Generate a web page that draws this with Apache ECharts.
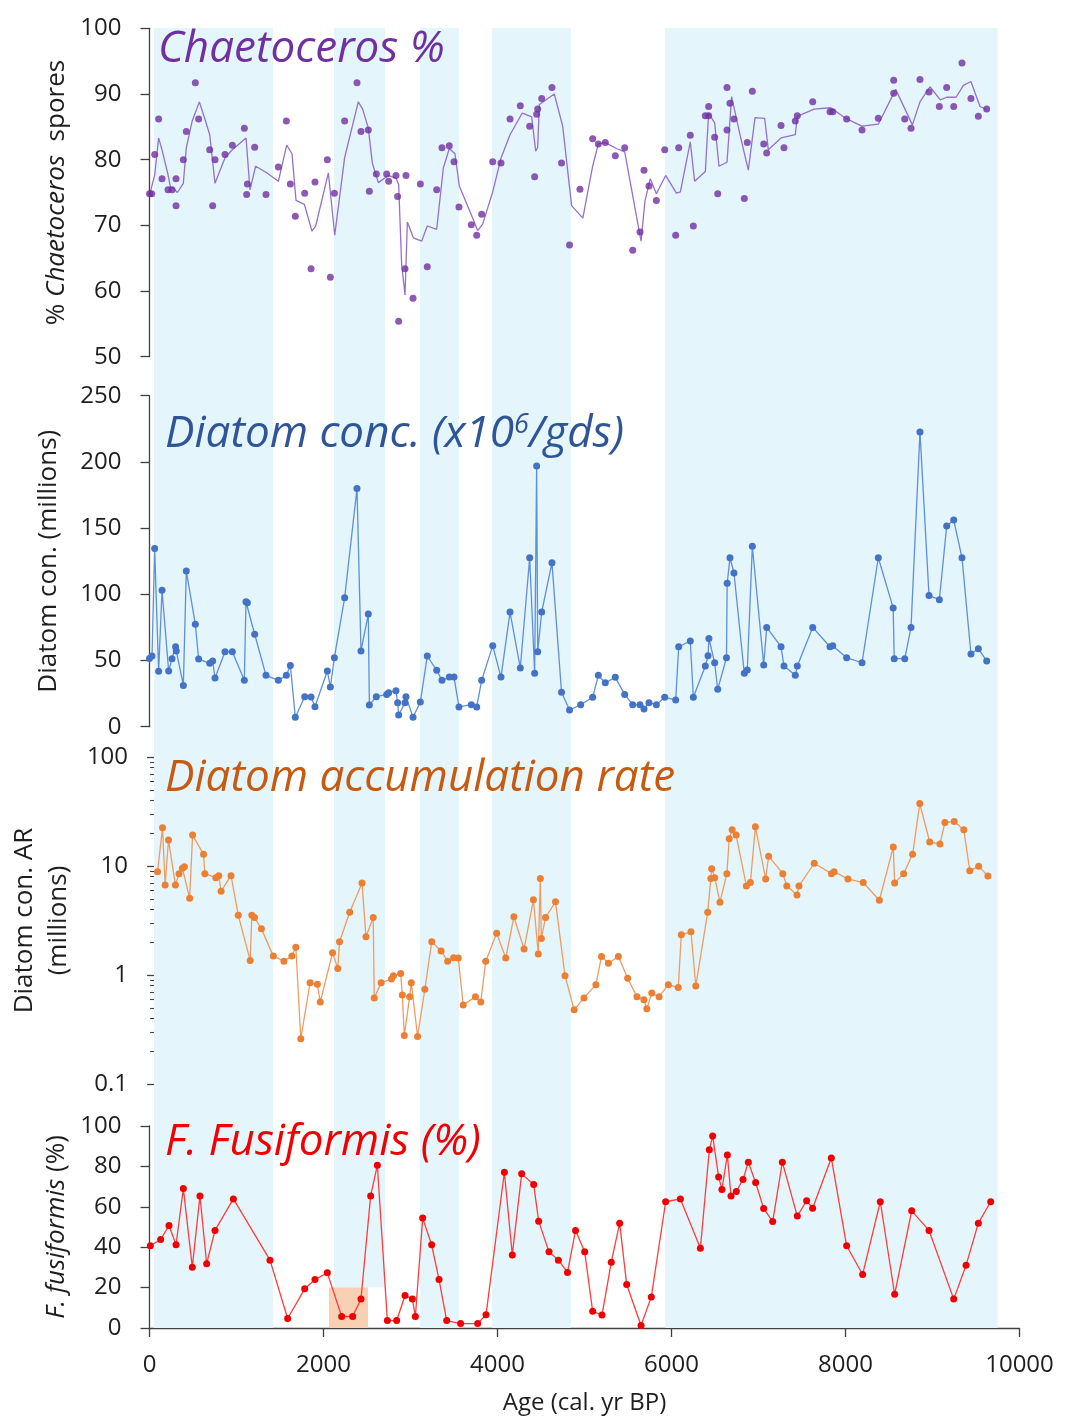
<!DOCTYPE html>
<html><head><meta charset="utf-8">
<script src="https://cdn.jsdelivr.net/npm/echarts@6/dist/echarts.min.js"></script>
<style>html,body{margin:0;padding:0;background:#fff}#c{width:1069px;height:1421px}</style>
</head><body><div id="c"></div>
<script>
// ---------- data ----------
const xTickLabels = [0, 2000, 4000, 6000, 8000, 10000];
const shadeBands = [[52, 1420], [2121, 2707], [3109, 3557], [3937, 4845], [5925, 9749]];
const highlightBox = [2063, 2511];      // years, F. fusiformis 0-20 %
const highlightTop = 20;

// Chaetoceros % spores: sample dots
const chaetoDotYears = [0,25,60,105,144,213,259,305,305,389,423,527,565,692,726,753,868,952,1090,1117,1125,1209,1339,1481,1573,1619,1676,1784,1857,1902,2044,2079,2125,2243,2385,2431,2515,2527,2607,2726,2749,2833,2852,2864,2937,2948,3029,3113,3193,3301,3362,3446,3500,3557,3699,3761,3818,3945,4040,4144,4262,4370,4427,4450,4462,4508,4626,4736,4828,4948,5094,5159,5239,5354,5462,5554,5638,5684,5741,5826,5922,6048,6083,6216,6251,6389,6427,6427,6496,6531,6638,6638,6672,6718,6837,6871,6929,7060,7094,7259,7293,7423,7446,7623,7822,7853,8013,8190,8377,8554,8554,8681,8753,8856,8960,9079,9163,9244,9339,9442,9527,9623];
const chaetoDotVals = [74.8,74.8,80.8,86.2,77.1,75.4,75.4,73.0,77.1,80.0,84.3,91.7,86.2,81.5,73.0,80.0,80.8,82.2,84.8,74.7,76.3,81.9,74.7,78.9,85.9,76.3,71.4,74.9,63.4,76.6,80.0,62.1,74.9,85.9,91.7,84.3,84.5,75.2,77.8,77.8,76.7,77.6,74.4,55.4,63.4,77.6,58.9,76.3,63.7,75.4,81.8,82.1,79.7,72.8,70.1,68.5,71.7,79.7,79.5,86.2,88.2,85.1,77.4,86.9,87.7,89.3,91.0,79.5,67.0,75.5,83.2,82.4,82.6,80.6,81.8,66.2,69.0,78.4,76.0,73.8,81.5,68.5,81.8,83.7,69.9,86.7,86.7,88.1,83.4,74.8,91.0,84.5,88.6,86.2,74.1,82.6,90.4,82.4,81.0,85.2,81.8,85.9,86.7,88.8,87.3,87.3,86.2,84.5,86.3,92.1,90.1,86.2,84.8,92.2,90.3,88.1,91.0,88.1,94.7,89.3,86.6,87.7];
// Chaetoceros % spores: thin line
const chaetoLineYears = [5,60,105,144,213,243,270,320,389,423,489,573,634,692,753,868,952,1110,1155,1220,1347,1481,1577,1638,1684,1780,1868,1910,2056,2129,2243,2400,2450,2515,2561,2630,2745,2833,2864,2898,2937,2964,3033,3128,3193,3301,3377,3446,3511,3561,3699,3772,3830,3945,4040,4144,4285,4393,4439,4462,4481,4653,4749,4852,4981,5094,5159,5239,5367,5462,5650,5695,5756,5826,5933,6056,6102,6216,6266,6389,6427,6496,6546,6638,6691,6787,6883,6960,7071,7113,7259,7423,7446,7638,7830,8013,8190,8377,8577,8769,8856,8971,9090,9163,9271,9355,9442,9546,9623];
const chaetoLineVals = [74.8,77.7,83.3,81.5,77.7,75.7,75.7,75.0,76.4,81.8,85.8,88.8,86.3,83.8,76.4,80.3,81.5,83.3,75.4,79.0,78.0,76.7,82.2,80.9,73.8,73.2,69.1,69.9,78.0,68.5,80.3,88.8,87.7,84.8,79.5,76.5,77.6,77.2,76.2,64.1,59.4,70.5,68.1,67.6,69.9,69.4,78.7,81.7,80.9,76.0,71.6,69.2,70.2,75.1,80.2,83.8,87.1,86.5,81.3,81.9,88.4,90.0,85.1,73.0,71.1,79.0,82.4,82.6,81.7,81.2,67.6,73.7,77.1,74.8,77.6,74.9,75.1,82.7,76.7,78.2,87.1,85.6,79.0,79.6,89.6,83.8,78.4,86.4,86.3,81.5,83.3,83.8,86.6,87.7,87.9,86.2,85.1,85.4,90.7,85.3,88.8,91.1,89.1,89.5,89.5,91.3,91.9,88.1,87.6];

// Diatom concentration (millions)
const concYears = [0,29,59,105,144,220,259,300,308,389,423,527,565,692,726,753,868,952,1090,1109,1125,1209,1339,1481,1573,1619,1676,1784,1857,1902,2044,2079,2125,2243,2385,2431,2515,2527,2607,2726,2749,2833,2852,2864,2937,2948,3029,3113,3193,3301,3362,3446,3500,3557,3699,3761,3818,3945,4040,4144,4262,4370,4427,4450,4462,4508,4626,4736,4828,4956,5094,5159,5239,5354,5462,5554,5638,5684,5741,5826,5922,6048,6083,6216,6251,6389,6420,6430,6496,6531,6632,6640,6672,6718,6837,6871,6929,7060,7094,7259,7293,7423,7446,7623,7822,7853,8013,8190,8377,8548,8560,8681,8753,8856,8960,9079,9163,9244,9339,9442,9527,9623];
const concVals = [51.6,53.4,134.5,41.8,103.0,42.1,51.4,60.4,57.2,31.2,117.6,77.3,51.1,47.9,49.6,36.8,56.6,56.6,35.0,94.4,93.7,69.8,38.8,35.0,38.8,46.3,7.1,22.7,22.4,15.1,42.1,30.0,52.1,97.4,180.0,57.2,85.1,16.4,22.7,24.4,25.7,27.2,18.1,8.8,18.1,22.7,7.1,18.6,53.4,42.6,35.0,37.5,37.5,14.9,16.6,14.9,35.0,61.2,37.5,86.6,44.3,127.6,40.3,196.9,56.6,86.6,123.9,26.0,12.6,16.6,22.2,38.8,33.2,37.3,24.4,16.6,16.6,13.4,18.1,16.6,22.2,20.2,60.4,64.7,22.2,45.8,53.6,66.7,48.3,28.2,52.1,108.3,127.6,116.1,40.3,42.8,136.2,46.6,75.0,60.4,45.8,38.8,45.8,75.0,60.4,61.2,52.1,48.3,127.6,89.7,51.4,51.4,75.0,222.6,99.0,95.9,151.6,156.1,127.6,54.9,58.9,49.6];

// Diatom accumulation rate (millions, log scale)
const arYears = [17,75,105,144,224,266,305,328,389,423,550,565,692,726,753,868,952,1090,1109,1140,1220,1358,1481,1573,1619,1676,1784,1868,1902,2044,2105,2125,2243,2385,2431,2515,2527,2607,2726,2749,2833,2852,2875,2937,2956,3029,3113,3193,3301,3377,3446,3500,3557,3699,3761,3818,3945,4050,4144,4262,4370,4427,4450,4462,4511,4626,4736,4842,4956,5094,5159,5239,5354,5462,5570,5650,5684,5741,5826,5933,6048,6083,6195,6251,6389,6425,6435,6470,6531,6611,6638,6672,6718,6837,6883,6941,7060,7094,7259,7305,7423,7446,7623,7822,7853,8013,8190,8377,8538,8554,8658,8762,8845,8960,9079,9136,9244,9355,9424,9527,9634];
const arVals = [8.87,22.4,6.70,17.3,6.70,8.51,9.52,9.86,5.06,19.2,12.8,8.51,7.82,8.16,5.86,8.16,3.54,1.36,3.54,3.37,2.65,1.49,1.34,1.49,1.80,0.260,0.851,0.822,0.566,1.60,1.15,2.02,3.77,7.0,2.24,3.37,0.616,0.851,0.918,0.986,1.03,0.656,0.279,0.630,0.851,0.273,0.740,2.02,1.66,1.34,1.44,1.43,0.532,0.630,0.566,1.34,2.41,1.43,3.42,1.73,4.89,1.56,7.66,2.16,3.37,4.69,0.986,0.479,0.616,0.816,1.48,1.28,1.48,0.933,0.630,0.594,0.489,0.684,0.630,0.816,0.766,2.34,2.49,0.793,3.77,7.66,9.46,7.82,4.66,8.51,17.8,21.5,19.2,6.56,7.05,22.9,7.60,12.3,8.51,6.56,5.43,6.56,10.6,8.51,8.87,7.60,7.05,4.85,14.9,7.0,8.51,12.8,37.4,16.6,15.9,25.1,25.6,21.5,9.06,9.93,8.11];

// F. fusiformis (%)
const fusiYears = [10,128,224,305,389,492,580,657,753,964,1385,1588,1784,1902,2044,2209,2335,2431,2542,2619,2734,2841,2937,3021,3056,3140,3243,3328,3416,3576,3772,3868,4079,4170,4278,4416,4473,4592,4700,4805,4897,5002,5094,5201,5308,5404,5485,5650,5768,5933,6102,6332,6435,6473,6542,6580,6642,6684,6745,6822,6883,6967,7059,7163,7274,7446,7553,7622,7837,8013,8197,8400,8565,8761,8960,9244,9386,9527,9669];
const fusiVals = [40.7,43.8,50.7,41.2,69.0,30.1,65.4,31.8,48.3,63.9,33.6,4.7,19.4,24.0,27.3,5.7,5.7,14.4,65.4,80.6,3.7,3.7,16.1,14.4,5.7,54.4,41.2,24.0,3.7,2.2,2.2,6.5,77.1,36.2,76.3,71.0,52.9,37.7,33.6,27.5,48.3,37.7,8.3,6.4,32.6,51.9,21.5,1.2,15.4,62.5,63.9,39.5,88.2,95.1,74.7,68.6,85.7,65.3,67.6,73.5,82.1,72.0,59.2,52.7,82.1,55.4,63.0,59.3,84.2,40.7,26.5,62.5,16.7,58.0,48.3,14.3,31.1,51.9,62.5];

const logMajor = [0.1, 1, 10, 100];
const logMinor = [0.2,0.3,0.4,0.5,0.6,0.7,0.8,0.9,2,3,4,5,6,7,8,9,20,30,40,50,60,70,80,90];

// ---------- build ----------
const pairs = (xs, ys) => xs.map((x, i) => [x, ys[i]]);
const FONT = 'Open Sans';
const FS = 24;     // tick labels
const NFS = 26;    // axis names
const AX = '#404040';
const LBL = '#1e1e1e';
const L = 149.5, W = 870;
const grids = [
  {left: L, width: W, top: 28, height: 1098},
  {left: L, width: W, top: 28.3, height: 328.4},
  {left: L, width: W, top: 395.7, height: 331},
  {left: L, width: W, top: 757, height: 327},
  {left: L, width: W, top: 1126, height: 202}
];
const hiddenX = i => ({type: 'value', gridIndex: i, min: 0, max: 10000, show: false});
const labelStyle = {fontFamily: FONT, fontSize: FS, color: LBL, margin: 28};
const nameStyle = {fontFamily: FONT, fontSize: NFS, color: LBL,
  rich: {i: {fontFamily: FONT, fontSize: NFS, color: LBL, fontStyle: 'italic'}}};
const yBase = (gi, extra) => Object.assign({
  gridIndex: gi, type: 'value', splitLine: {show: false},
  axisLine: {show: true, lineStyle: {color: AX, width: 1.3}},
  axisTick: {show: true, length: 9, lineStyle: {color: AX, width: 1.3}},
  axisLabel: labelStyle,
  nameLocation: 'middle', nameRotate: 90,
  nameTextStyle: nameStyle
}, extra);

const TFS = 44;
const titleStyle = (c) => ({fontFamily: FONT, fontStyle: 'italic', fontWeight: 'normal', fontSize: TFS, color: c});

const option = {
  animation: false,
  backgroundColor: '#fff',
  title: [
    {text: 'Chaetoceros %', left: 153, top: 22, textStyle: titleStyle('#7030A0')},
    {text: '{a|Diatom conc. (x10}{s|6}{a|/gds)}', left: 160, top: 407,
     textStyle: Object.assign(titleStyle('#2F5597'), {rich: {
       a: {fontFamily: FONT, fontStyle: 'italic', fontSize: TFS, color: '#2F5597'},
       s: {fontFamily: FONT, fontStyle: 'italic', fontSize: 27, color: '#2F5597', verticalAlign: 'top', padding: [0, 0, 15, 0]}
     }})},
    {text: 'Diatom accumulation rate', left: 160, top: 751, textStyle: titleStyle('#C55A11')},
    {text: 'F. Fusiformis (%)', left: 160, top: 1115, textStyle: titleStyle('#F00000')}
  ],
  grid: grids,
  xAxis: [
    hiddenX(0), hiddenX(1), hiddenX(2), hiddenX(3),
    {type: 'value', gridIndex: 4, min: 0, max: 10000, interval: 2000,
     splitLine: {show: false},
     axisLine: {show: true, lineStyle: {color: AX, width: 1.3}},
     axisTick: {show: true, length: 9, lineStyle: {color: AX, width: 1.3}},
     axisLabel: {fontFamily: FONT, fontSize: FS, color: LBL, margin: 25,
       formatter: v => xTickLabels.includes(v) ? String(v) : ''},
     name: 'Age (cal. yr BP)', nameLocation: 'middle', nameGap: 63,
     nameTextStyle: {fontFamily: FONT, fontSize: FS, color: LBL}}
  ],
  yAxis: [
    {type: 'value', gridIndex: 0, min: 0, max: 1, show: false},
    yBase(1, {min: 50, max: 100, interval: 10, name: '% {i|Chaetoceros}  spores', nameGap: 79}),
    yBase(2, {min: 0, max: 250, interval: 50, name: 'Diatom con. (millions)', nameGap: 88}),
    yBase(3, {type: 'log', logBase: 10, min: 0.1, max: 100, name: 'Diatom con. AR\n(millions)', nameGap: 74,
      axisTick: {show: true, length: 9, customValues: logMajor, lineStyle: {color: AX, width: 1.3}},
      axisLabel: Object.assign({}, labelStyle, {customValues: logMajor, formatter: v => String(v)}),
      nameTextStyle: {fontFamily: FONT, fontSize: NFS, color: LBL, lineHeight: 34}}),
    {gridIndex: 3, type: 'log', logBase: 10, min: 0.1, max: 100, position: 'left', offset: 0,
     splitLine: {show: false}, axisLine: {show: false}, axisLabel: {show: false},
     axisTick: {show: true, length: 6, customValues: logMinor, lineStyle: {color: AX, width: 1.1}}},
    yBase(4, {min: 0, max: 100, interval: 20, name: '{i|F. fusiformis} (%)', nameGap: 77})
  ],
  series: [
    {type: 'line', xAxisIndex: 0, yAxisIndex: 0, data: [], silent: true,
     markArea: {silent: true, itemStyle: {color: '#E4F5FC'},
       data: shadeBands.map(b => [{xAxis: b[0]}, {xAxis: b[1]}])}},
    {type: 'line', xAxisIndex: 4, yAxisIndex: 5, data: [], silent: true, z: 1,
     markArea: {silent: true, itemStyle: {color: '#E4F5FC'},
       data: shadeBands.map((b, i) => i === 1
         ? [{xAxis: b[0], yAxis: highlightTop}, {xAxis: b[1], yAxis: 100}]
         : [{xAxis: b[0], yAxis: 0}, {xAxis: b[1], yAxis: 100}])
         .concat([[{xAxis: highlightBox[0], yAxis: 0, itemStyle: {color: '#F8D0B4'}}, {xAxis: highlightBox[1], yAxis: highlightTop}]])}},
    {name: 'Chaetoceros line', type: 'line', xAxisIndex: 1, yAxisIndex: 1,
     data: pairs(chaetoLineYears, chaetoLineVals), showSymbol: false,
     lineStyle: {color: '#9571C8', width: 1.3}, z: 3},
    {name: 'Chaetoceros', type: 'scatter', xAxisIndex: 1, yAxisIndex: 1,
     data: pairs(chaetoDotYears, chaetoDotVals), symbolSize: 7,
     itemStyle: {color: '#7030A0'}, z: 4},
    {name: 'Diatom conc', type: 'line', xAxisIndex: 2, yAxisIndex: 2,
     data: pairs(concYears, concVals), symbol: 'circle', symbolSize: 7, showAllSymbol: true,
     lineStyle: {color: '#5E8FD9', width: 1.3}, itemStyle: {color: '#4472C4'}},
    {name: 'Diatom AR', type: 'line', xAxisIndex: 3, yAxisIndex: 3,
     data: pairs(arYears, arVals), symbol: 'circle', symbolSize: 7, showAllSymbol: true,
     lineStyle: {color: '#EE9C62', width: 1.3}, itemStyle: {color: '#EB7F32'}},
    {name: 'F. fusiformis', type: 'line', xAxisIndex: 4, yAxisIndex: 5,
     data: pairs(fusiYears, fusiVals), symbol: 'circle', symbolSize: 7, showAllSymbol: true,
     lineStyle: {color: '#FF3B3B', width: 1.3}, itemStyle: {color: '#F00000'}, z: 3}
  ]
};
const chart = echarts.init(document.getElementById('c'), null, {renderer: 'canvas'});
chart.setOption(option);
</script>
</body></html>
